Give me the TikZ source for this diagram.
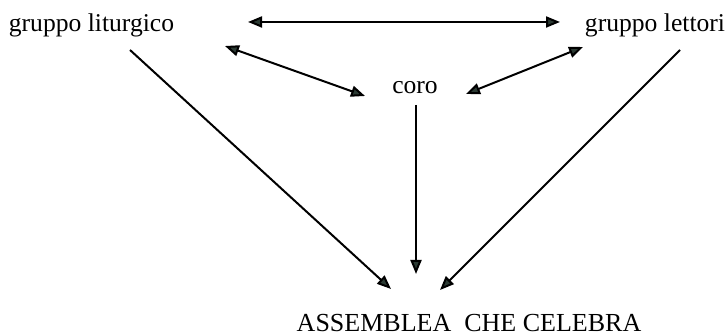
\documentclass[tikz,border=0pt]{standalone}
\usepackage{fontspec}
\setmainfont{Liberation Serif}
\usetikzlibrary{arrows.meta}
\definecolor{tipgreen}{HTML}{2B3A33}
\begin{document}
\begin{tikzpicture}[x=1pt,y=1pt,
        label/.style={inner sep=0pt,font=\fontsize{12.8}{15}\selectfont},
        link/.style={line width=1pt,-{Triangle[length=7pt,width=5.5pt,fill=tipgreen]}},
        both/.style={line width=1pt,{Triangle[length=7pt,width=5.5pt,fill=tipgreen]}-{Triangle[length=7pt,width=5.5pt,fill=tipgreen]}}]
    \useasboundingbox (0,0) rectangle (363,167.5);
    \node[label] (lit) at (45.75,155) {gruppo liturgico};
    \node[label] (lett) at (327.5,155) {gruppo lettori};
    \node[label] (coro) at (207.5,123.5) {coro};
    \node[label,font=\fontsize{13}{15}\selectfont] (ass) at (234.5,5.75) {ASSEMBLEA~~CHE CELEBRA};
    % frecce tra i gruppi
    \draw[both] ([shift={(78.25,1.5)}]lit.center) -- ([shift={(-47.5,1.5)}]lett.center);
    \draw[both] ([shift={(66.75,-10.5)}]lit.center) -- ([shift={(-25,-4)}]coro.center);
    \draw[both] ([shift={(25.5,-3)}]coro.center) -- ([shift={(-36,-11)}]lett.center);
    % verso l'assemblea
    \draw[link] ([shift={(19.25,-12.5)}]lit.center) -- ([shift={(-39,17.25)}]ass.center);
    \draw[link] ([shift={(0.5,-8.5)}]coro.center) -- ([shift={(-26.5,24.75)}]ass.center);
    \draw[link] ([shift={(12.5,-12.5)}]lett.center) -- ([shift={(-14.5,16.75)}]ass.center);
\end{tikzpicture}
\end{document}
